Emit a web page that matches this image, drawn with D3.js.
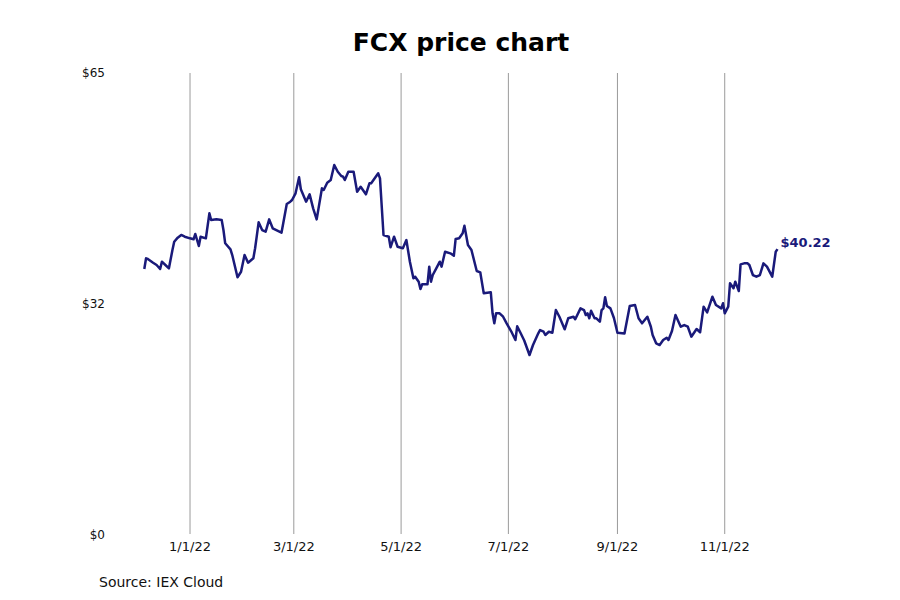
<!DOCTYPE html>
<html lang="en">
<head>
    <meta charset="UTF-8">
    <title>FCX price chart</title>
    <script src="https://d3js.org/d3.v7.min.js"></script>
    <style>
        body { margin: 0; background: #fff; }
        text { font-family: "DejaVu Sans", sans-serif; }
    </style>
</head>
<body>
    <script>

    //daily closes
    const priceDates = [
        "2021-12-06","2021-12-07","2021-12-08","2021-12-11","2021-12-13","2021-12-15","2021-12-16","2021-12-18",
        "2021-12-20","2021-12-22","2021-12-23","2021-12-25","2021-12-27","2021-12-29",
        "2022-01-01","2022-01-03","2022-01-04","2022-01-06","2022-01-07","2022-01-10","2022-01-12","2022-01-13",
        "2022-01-16","2022-01-19","2022-01-20","2022-01-21","2022-01-24","2022-01-25","2022-01-28","2022-01-30",
        "2022-02-01","2022-02-03","2022-02-06","2022-02-07","2022-02-09","2022-02-11","2022-02-13","2022-02-15",
        "2022-02-17","2022-02-22","2022-02-25","2022-02-27","2022-02-28",
        "2022-03-02","2022-03-04","2022-03-05","2022-03-08","2022-03-10","2022-03-12","2022-03-14","2022-03-17",
        "2022-03-18","2022-03-20","2022-03-22","2022-03-24","2022-03-26","2022-03-28","2022-03-29","2022-03-30",
        "2022-04-01","2022-04-04","2022-04-06","2022-04-08","2022-04-11","2022-04-13","2022-04-14","2022-04-18",
        "2022-04-19","2022-04-21","2022-04-24","2022-04-25","2022-04-27","2022-04-29",
        "2022-05-02","2022-05-04","2022-05-06","2022-05-08","2022-05-09","2022-05-11","2022-05-12","2022-05-13",
        "2022-05-16","2022-05-17","2022-05-18","2022-05-19","2022-05-21","2022-05-23","2022-05-24","2022-05-26",
        "2022-05-29","2022-05-31",
        "2022-06-01","2022-06-03","2022-06-05","2022-06-06","2022-06-08","2022-06-10","2022-06-13","2022-06-15",
        "2022-06-17","2022-06-21","2022-06-22","2022-06-23","2022-06-24","2022-06-26","2022-06-28","2022-06-30",
        "2022-07-03","2022-07-05","2022-07-06","2022-07-08","2022-07-10","2022-07-13","2022-07-15","2022-07-18",
        "2022-07-19","2022-07-21","2022-07-22","2022-07-24","2022-07-26","2022-07-28","2022-07-30",
        "2022-08-02","2022-08-04","2022-08-07","2022-08-08","2022-08-11","2022-08-13","2022-08-14","2022-08-15",
        "2022-08-16","2022-08-17","2022-08-19","2022-08-20","2022-08-22","2022-08-23","2022-08-24","2022-08-25",
        "2022-08-26","2022-08-28","2022-08-30",
        "2022-09-01","2022-09-05","2022-09-08","2022-09-11","2022-09-13","2022-09-15","2022-09-18","2022-09-20",
        "2022-09-21","2022-09-23","2022-09-25","2022-09-27","2022-09-29","2022-09-30",
        "2022-10-02","2022-10-04","2022-10-07","2022-10-09","2022-10-11","2022-10-13","2022-10-16","2022-10-18",
        "2022-10-20","2022-10-22","2022-10-25","2022-10-27","2022-10-30","2022-10-31",
        "2022-11-01","2022-11-03","2022-11-04","2022-11-06","2022-11-07","2022-11-09","2022-11-10","2022-11-12",
        "2022-11-14","2022-11-15","2022-11-17","2022-11-19","2022-11-21","2022-11-23","2022-11-25","2022-11-28",
        "2022-11-30","2022-12-01"
    ]

    const prices = [
        37.42,38.93,38.83,38.31,37.99,37.42,38.45,37.99,
        37.52,40.10,41.26,41.83,42.21,41.97,
        41.74,41.60,42.35,40.66,41.97,41.74,45.26,44.32,
        44.41,44.32,42.91,41.04,40.19,39.39,36.26,37.04,
        39.39,38.31,38.93,40.34,43.99,42.91,42.67,44.41,
        43.15,42.53,46.57,46.89,47.13,
        48.07,50.32,48.64,46.89,47.93,45.96,44.41,48.78,
        48.54,49.56,49.94,52.05,51.11,50.51,50.41,49.94,
        51.11,51.11,48.30,49.00,47.93,49.48,49.48,50.89,
        50.18,42.21,41.97,40.48,41.97,40.56,
        40.34,41.50,38.45,36.11,36.34,35.64,34.61,35.27,
        35.27,37.75,35.64,36.58,37.52,38.45,37.75,39.86,
        39.63,39.29,
        41.64,41.74,42.45,43.51,40.80,40.10,37.14,36.96,
        34.00,34.14,31.19,29.78,31.19,31.19,30.71,29.78,
        28.46,27.43,29.36,28.38,27.36,25.32,26.73,28.38,
        28.84,28.60,28.14,28.60,28.46,31.65,30.71,
        28.94,30.49,30.71,30.35,31.89,31.65,30.95,31.19,
        30.49,31.56,30.49,30.49,30.01,31.65,31.89,33.44,
        32.22,31.89,30.53,
        28.46,28.35,32.22,32.36,30.49,29.78,30.71,29.30,
        28.14,26.97,26.73,27.43,27.76,27.43,
        28.70,30.95,29.30,29.54,29.30,27.90,28.98,28.52,
        32.12,31.33,33.53,32.36,31.89,32.60,
        31.19,32.12,35.41,34.71,35.64,34.33,38.08,38.22,
        38.22,37.99,36.58,36.34,36.58,38.22,37.75,36.34,
        39.86,40.22
    ]

    const gridDates = ["2022-01-01","2022-03-01","2022-05-01","2022-07-01","2022-09-01","2022-11-01"]
    const xTickLabels = ["1/1/22","3/1/22","5/1/22","7/1/22","9/1/22","11/1/22"]
    const yTickValues = [0, 32.5, 65]
    const yTickLabels = ["$0","$32","$65"]

    const parseDate = d3.utcParse("%Y-%m-%d")

    const data = priceDates.map((d, i) => ({ date: parseDate(d), price: prices[i] }))

    var svg = d3.select("body")
        .append("svg")
        .attr("width", 900)
        .attr("height", 600)

    svg.append("rect")
        .attr("width", 900)
        .attr("height", 600)
        .attr("fill", "white")

    const x = d3.scaleUtc()
        .domain(d3.extent(data, d => d.date))
        .range([144.3, 777.5])

    const y = d3.scaleLinear()
        .domain([0, 65])
        .range([535, 73])

    //vertical grid lines at every other month
    svg.selectAll(".grid")
        .data(gridDates)
        .enter()
        .append("line")
        .attr("class", "grid")
        .attr("x1", d => x(parseDate(d)))
        .attr("x2", d => x(parseDate(d)))
        .attr("y1", y(65))
        .attr("y2", 534)
        .attr("stroke", "#9a9a9a")
        .attr("stroke-width", 1)

    svg.selectAll(".xlabel")
        .data(gridDates)
        .enter()
        .append("text")
        .attr("class", "xlabel")
        .attr("x", d => x(parseDate(d)))
        .attr("y", 551)
        .attr("text-anchor", "middle")
        .style("font-size", "13px")
        .attr("fill", "#111")
        .text((d, i) => xTickLabels[i])

    svg.selectAll(".ylabel")
        .data(yTickValues)
        .enter()
        .append("text")
        .attr("class", "ylabel")
        .attr("x", 105)
        .attr("y", d => y(d))
        .attr("dy", "0.35em")
        .attr("text-anchor", "end")
        .style("font-size", "12px")
        .attr("fill", "#111")
        .text((d, i) => yTickLabels[i])

    const line = d3.line()
        .x(d => x(d.date))
        .y(d => y(d.price))

    svg.append("path")
        .datum(data)
        .attr("d", line)
        .attr("fill", "none")
        .attr("stroke", "#1a1a7a")
        .attr("stroke-width", 2.5)
        .attr("stroke-linejoin", "round")

    //last price label
    const last = data[data.length - 1]
    svg.append("text")
        .attr("x", x(last.date) + 3)
        .attr("y", y(last.price) - 2)
        .style("font-size", "13px")
        .style("font-weight", "bold")
        .attr("fill", "#1a1a7a")
        .text("$" + d3.format(".2f")(last.price))

    svg.append("text")
        .attr("x", 461)
        .attr("y", 51)
        .attr("text-anchor", "middle")
        .style("font-size", "25px")
        .style("font-weight", "bold")
        .text("FCX price chart")

    svg.append("text")
        .attr("x", 99)
        .attr("y", 587)
        .style("font-size", "14px")
        .attr("fill", "#111")
        .text("Source: IEX Cloud")

    </script>
</body>
</html>
